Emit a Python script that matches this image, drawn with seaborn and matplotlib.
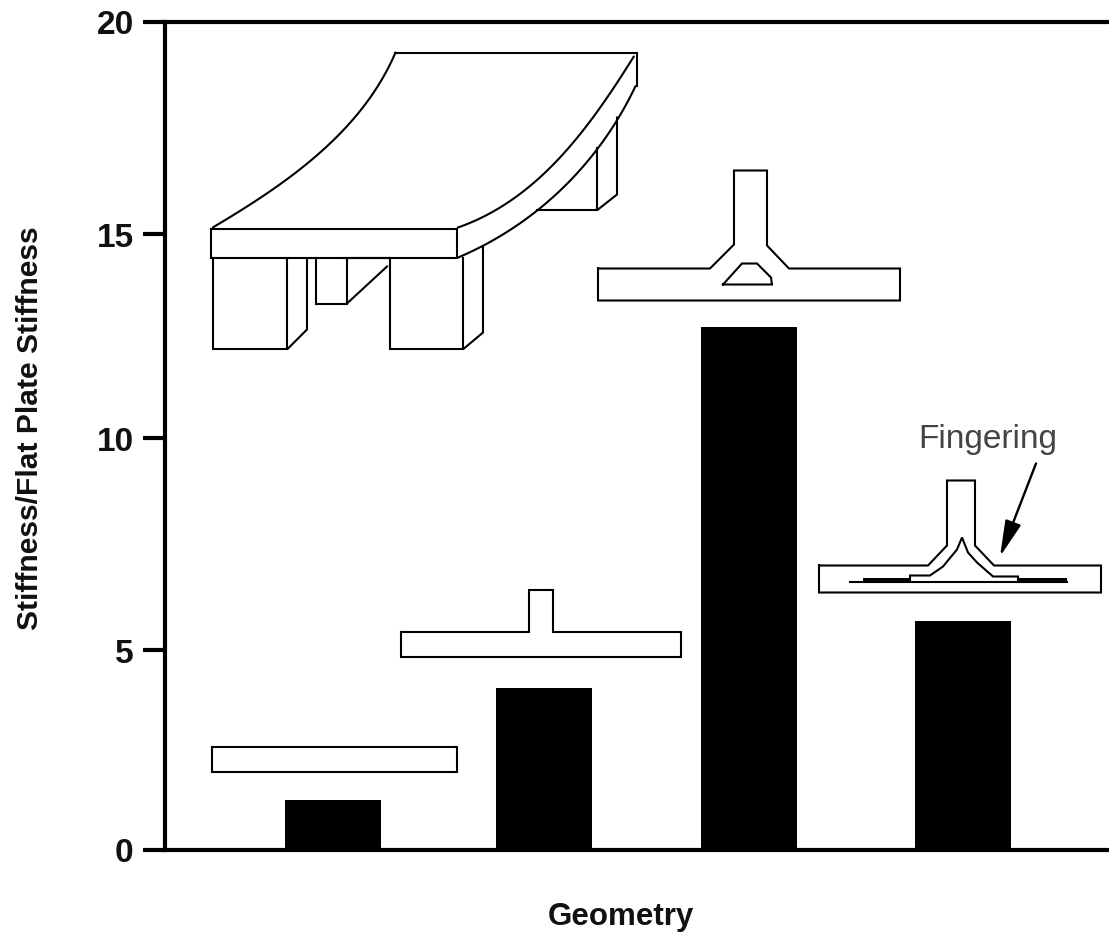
import numpy as np
import pandas as pd
import seaborn as sns
import matplotlib.pyplot as plt

# values
geometries = ['Flat plate', 'Tee', 'Tee with fillet', 'Tee with fingering']
stiffness = [1.2, 3.9, 12.62, 5.52]
y_tick_labels = ['0', '5', '10', '15', '20']
# the printed ticks are not quite evenly spaced
y_tick_values = [0, 4.83, 9.93, 14.86, 20]

W, H = 1109, 937
LEFT, RIGHT, TOP, BOTTOM = 165, 1109, 22.5, 850.5

NARROW = ['Liberation Sans Narrow', 'Liberation Sans']

sns.set_theme(style='white', rc={'axes.edgecolor': 'black'})

df = pd.DataFrame({'Geometry': geometries, 'Stiffness': stiffness})

fig = plt.figure(figsize=(W / 100, H / 100), dpi=100, facecolor='white')
ax = fig.add_axes([LEFT / W, 1 - BOTTOM / H, (RIGHT - LEFT) / W, (BOTTOM - TOP) / H])

sns.barplot(data=df, x='Geometry', y='Stiffness', color='black', saturation=1, width=0.457,
            edgecolor='black', linewidth=0, ax=ax)

ax.set_xlim(-0.8, 3.695)
ax.set_ylim(0, 20)
ax.set_yticks(y_tick_values)
ax.set_yticklabels(y_tick_labels)
ax.set_xticks([])
ax.set_xlabel('')
ax.set_ylabel('')
ax.patches[1].set_x(ax.patches[1].get_x() + 0.005)
ax.patches[2].set_x(ax.patches[2].get_x() - 0.017)

for side in ['left', 'top', 'bottom']:
    ax.spines[side].set_linewidth(3)
ax.spines['right'].set_visible(False)
ax.tick_params(axis='y', length=16, width=3, color='black', left=True, pad=6.5)
for lab in ax.get_yticklabels():
    lab.set_family(NARROW)
    lab.set_fontweight('bold')
    lab.set_fontsize(24)
    lab.set_color('#111111')

# overlay in picture pixels for the line drawings above the bars
ov = fig.add_axes([0, 0, 1, 1], facecolor='none')
ov.set_xlim(0, W)
ov.set_ylim(H - 0.5, -0.5)
ov.axis('off')


def line(pts, closed=False, lw=1.5):
    pts = list(pts)
    if closed:
        pts = pts + [pts[0]]
    xs, ys = zip(*pts)
    ov.plot(xs, ys, color='black', lw=lw, solid_joinstyle='miter', solid_capstyle='projecting')


def curve(pts, lw=1.5):
    pts = np.array(pts, dtype=float)
    # chord length parameter, the read points are not evenly spaced
    t = np.r_[0, np.cumsum(np.hypot(*np.diff(pts, axis=0).T))]
    t = t / t[-1]
    tt = np.linspace(0, 1, 80)
    ov.plot(np.polyval(np.polyfit(t, pts[:, 0], 3), tt),
            np.polyval(np.polyfit(t, pts[:, 1], 3), tt),
            color='black', lw=lw, solid_capstyle='round')


# flat plate
line([(212, 747), (457, 747), (457, 772), (212, 772)], closed=True)

# plain tee
line([(401, 632), (529, 632), (529, 590), (553, 590), (553, 632), (681, 632), (681, 657), (401, 657)], closed=True)

# tee with fillet
line([(598, 269), (710, 269), (734, 245), (734, 171), (767, 171), (767, 246), (789, 269),
      (900, 269), (900, 301), (598, 301)], closed=True)
line([(723, 285), (742, 264), (757, 264), (771, 278), (772, 285)], closed=True)

# tee with fingering
line([(819, 566), (928, 566), (947, 546), (947, 481), (975, 481), (975, 546), (994, 566),
      (1101, 566), (1101, 593), (819, 593)], closed=True)
line([(850, 582), (1067, 582)])
line([(910, 582), (910, 576), (930, 576), (943, 567), (957, 550), (962, 538), (968, 553),
      (977, 563), (993, 577), (1018, 577), (1018, 582)])
ov.fill([863, 910, 910, 863], [578, 578, 582, 582], color='black', lw=0)
ov.fill([1018, 1067, 1067, 1018], [578, 578, 582, 582], color='black', lw=0)
ov.annotate('', xy=(1000, 557), xytext=(1036, 464),
            arrowprops=dict(arrowstyle='-|>,head_length=1.1,head_width=0.25', color='black', lw=1.7,
                            mutation_scale=20, shrinkA=0, shrinkB=0))
ov.text(988, 439, 'Fingering', ha='center', va='center', fontsize=24, color='#444444',
        family=NARROW)

# ribbed panel
curve([(213, 228), (257, 200), (317, 157), (343, 130), (370, 97), (385, 77), (395, 53)])
line([(395, 53), (637, 53), (637, 86)])
curve([(458, 228), (500, 208), (537, 180), (570, 148), (603, 103), (634, 57)])
curve([(458, 258), (490, 243), (533, 212), (567, 187), (595, 153), (617, 118), (636, 87)])
line([(211, 229), (457, 229), (457, 258), (211, 258)], closed=True)
line([(213, 258), (213, 349), (287, 349), (287, 258)])
line([(288, 349), (307, 330), (307, 259)])
line([(316, 258), (316, 304), (347, 304), (347, 259)])
line([(347, 304), (387, 267)])
line([(344, 258), (390, 258)])
line([(390, 258), (390, 349), (463, 349), (463, 258)])
line([(464, 349), (483, 333), (483, 247)])
line([(537, 210), (597, 210), (597, 148)])
line([(598, 210), (617, 195), (617, 118)])

fig.text(30 / W, 1 - 428 / H, 'Stiffness/Flat Plate Stiffness', rotation=90, ha='center', va='center',
         fontsize=21.6, fontweight='bold', family=NARROW, color='#111111')
fig.text(621 / W, 1 - 917 / H, 'Geometry', ha='center', va='center',
         fontsize=22.5, fontweight='bold', family=NARROW, color='#111111')

fig.savefig('out.png', dpi=100)
